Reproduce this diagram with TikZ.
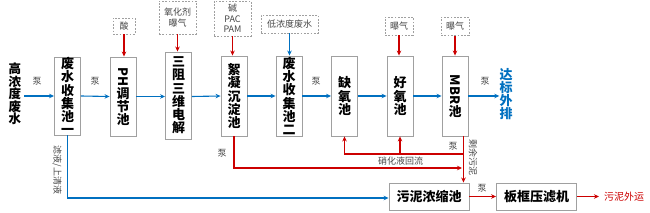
\documentclass[tikz,border=0pt]{standalone}
\usepackage{fontspec}
\usepackage{graphicx}
\setmainfont{Noto Sans CJK SC}
\usetikzlibrary{arrows.meta}
\definecolor{fblue}{RGB}{0,112,192}
\definecolor{fred}{RGB}{204,0,0}
\definecolor{bgray}{RGB}{160,160,160}
\definecolor{tgray}{RGB}{70,70,70}
\tikzset{
  mainbox/.style={draw=bgray, fill=white, line width=0.9pt, minimum width=26pt, inner sep=0pt,
    align=center, font=\bfseries\fontsize{13}{13.2}\selectfont},
  lowbox/.style={draw=bgray, fill=white, line width=0.9pt, minimum width=80pt, minimum height=27pt,
    inner sep=0pt, font=\bfseries\fontsize{13}{13.2}\selectfont},
  addbox/.style={draw=bgray, dash pattern=on 1.8pt off 1.5pt, line width=0.7pt, inner sep=0pt,
    align=center, text=tgray, font=\fontsize{9}{10.5}\selectfont},
  lbl/.style={text=tgray, inner sep=0pt, font=\fontsize{9}{10}\selectfont},
  flow/.style={draw=fblue, line width=1.1pt, -{Stealth[length=5pt,width=4.5pt]}},
  rflow/.style={draw=fred, line width=1.1pt, -{Stealth[length=5pt,width=4.5pt]}},
}
\begin{document}
\begin{tikzpicture}[x=1pt,y=-1pt]
\useasboundingbox (0,0) rectangle (650,213);
% inlet / outlet texts
\node[inner sep=0pt, align=center, font=\bfseries\fontsize{12.5}{12.6}\selectfont] (t0) at (15,94) {高\\浓\\度\\废\\水};
\node[inner sep=0pt, align=center, text=fblue, font=\bfseries\fontsize{13}{13.2}\selectfont] (t9) at (506,94) {达\\标\\外\\排};
% main boxes
\node[mainbox, minimum height=78pt] (b1) at (67.5,96) {废\\水\\收\\集\\池\\一};
\node[mainbox, minimum height=79pt] (b2) at (123,96.5) {\rotatebox{-90}{PH}\\调\\节\\池};
\node[mainbox, minimum height=87pt] (b3) at (178.5,95.5) {三\\阻\\三\\维\\电\\解};
\node[mainbox, minimum height=80pt] (b4) at (234,96) {絮\\凝\\沉\\淀\\池};
\node[mainbox, minimum height=80pt] (b5) at (289,96) {废\\水\\收\\集\\池\\二};
\node[mainbox, minimum height=80pt] (b6) at (344.5,96) {缺\\氧\\池};
\node[mainbox, minimum height=80pt] (b7) at (400,96) {好\\氧\\池};
\node[mainbox, minimum height=80pt] (b8) at (455,96) {\rotatebox{-90}{MBR}\\池};
% additive boxes
\node[addbox, minimum width=22pt, minimum height=16pt] (d2) at (124,26) {酸};
\node[addbox, minimum width=37pt, minimum height=33pt] (d3) at (177.5,17.5) {氧化剂\\曝气};
\node[addbox, minimum width=37pt, minimum height=35pt] (d4) at (232.5,18.5) {碱\\PAC\\PAM};
\node[addbox, minimum width=57pt, minimum height=18pt] (d5) at (289.5,24) {低浓度废水};
\node[addbox, minimum width=28pt, minimum height=18pt] (d7) at (399,26) {曝气};
\node[addbox, minimum width=28pt, minimum height=18pt] (d8) at (455,26.5) {曝气};
% lower boxes
\node[lowbox] (n1) at (429,196.5) {污泥浓缩池};
\node[lowbox] (n2) at (536.5,196.5) {板框压滤机};
\node[inner sep=0pt, text=fred, font=\fontsize{10}{11}\selectfont] (out) at (624,197) {污泥外运};
% main flow
\draw[flow] (t0.east |- b1.west) ++(3,0) -- (b1.west);
\draw[flow] (b1.east) -- (b2.west);
\draw[flow] (b2.east) -- (b3.west |- b2.east);
\draw[flow] (b3.east |- b2.east) -- (b4.west);
\draw[flow] (b4.east) -- (b5.west);
\draw[flow] (b5.east) -- (b6.west);
\draw[flow] (b6.east) -- (b7.west);
\draw[flow] (b7.east) -- (b8.west);
\draw[flow] (b8.east) -- (t9.west |- b8.east);
% additions
\draw[rflow] (d2.south) -- (d2.south |- b2.north);
\draw[rflow] (d3.south) -- (d3.south |- b3.north);
\draw[rflow] (d4.south) -- (d4.south |- b4.north);
\draw[flow] (d5.south) -- (d5.south |- b5.north);
\draw[rflow] (d7.south) -- (d7.south |- b7.north);
\draw[rflow] (d8.south) -- (d8.south |- b8.north);
% pump labels on main line
\node[lbl] (p1) at (37,81) {泵};
\node[lbl] (p2) at (95,81) {泵};
\node[lbl] (p3) at (316,81) {泵};
\node[lbl] (p4) at (485,81) {泵};
% filtrate line
\draw[flow] (b1.south) |- (n1.west |- 0,198);
\node[lbl, rotate=-90] (lf) at (57,170) {滤液/上清液};
% sludge from flocculation
\coordinate (ms) at ([xshift=-5pt]b8.south east);
\coordinate (jr) at (462,168);
\draw[rflow] (b4.south) |- (jr);
\node[lbl] (p5) at (222,153) {泵};
% excess sludge
\draw[rflow] (ms) -- (ms |- n1.north);
\node[lbl] (p6) at (453,146) {泵};
\node[lbl, rotate=-90] (ls) at (473,158) {剩余污泥};
% nitrification liquid return
\coordinate (jn) at (463,154);
\draw[rflow] (jn) -| (b6.south);
\draw[rflow] (b7.south |- jn) -- (b7.south);
\node[lbl] (lr) at (400.5,161.5) {硝化液回流};
% sludge treatment
\draw[rflow] (n1.east) -- (n2.west);
\node[lbl] (p7) at (482,188) {泵};
\draw[rflow] (n2.east) -- ++(22,0) coordinate (oe);
\end{tikzpicture}
\end{document}
